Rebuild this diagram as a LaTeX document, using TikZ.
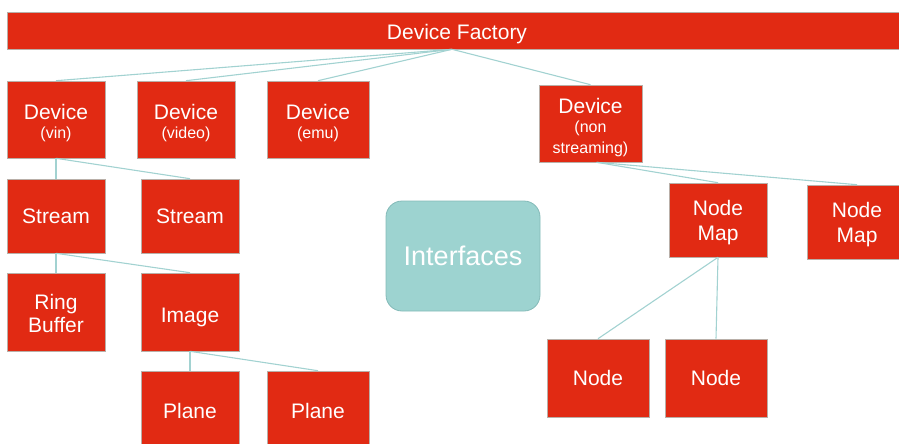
\documentclass[tikz,border=0pt]{standalone}
\usepackage{fontspec}
\setmainfont{Liberation Sans}
\usetikzlibrary{positioning}

\definecolor{boxred}{HTML}{E12A13}
\definecolor{boxedge}{HTML}{B9AFA8}
\definecolor{ifacefill}{HTML}{9DD3D0}
\definecolor{ifaceedge}{HTML}{84BAB8}
\definecolor{linkteal}{HTML}{A2D2D1}

\newcommand{\smalltxt}{\fontsize{16}{19}\selectfont}
\newcommand{\topstrut}[1]{\rule{0pt}{#1}}
\newcommand{\devlabel}[1]{\topstrut{22pt}Device\\[-4pt]\smalltxt #1}

\begin{document}
\begin{tikzpicture}[x=1pt,y=-1pt,
  box/.style={fill=boxred,draw=boxedge,line width=0.6pt,text=white,
    align=center,inner sep=0pt,minimum width=98pt,minimum height=77pt,
    font=\fontsize{21}{23}\selectfont},
  iface/.style={fill=ifacefill,draw=ifaceedge,line width=0.8pt,text=white,
    rounded corners=16pt,minimum width=154pt,minimum height=110pt,
    font=\fontsize{27}{30}\selectfont},
  link/.style={draw=linkteal,line width=1.1pt}]
\useasboundingbox (0,0) rectangle (899,444);

% factory bar
\node[box,minimum width=900pt,minimum height=37pt] (factory) at (457,30.5) {\topstrut{23pt}Device Factory};

% devices
\node[box] (vin) at (56,119.5) {\devlabel{(vin)}};
\node[box] (video) at (186,119.5) {\devlabel{(video)}};
\node[box,minimum width=102pt] (emu) at (318,119.5) {\devlabel{(emu)}};
\node[box,minimum width=103pt] (nonstr) at (590.5,123.5) {\topstrut{24pt}Device\\[-4pt]\smalltxt (non\\[-2pt]\smalltxt streaming)};

% streams
\node[box,minimum height=74pt] (streamA) at (56,216) {Stream};
\node[box,minimum height=74pt] (streamB) at (190,216) {Stream};
\node[box,minimum height=78pt] (ring) at (56,312) {\topstrut{19pt}Ring\\Buffer};
\node[box,minimum height=78pt] (image) at (190,312) {\topstrut{25pt}Image};
\node[box,minimum height=78pt] (planeA) at (190,410) {\topstrut{18pt}Plane};
\node[box,minimum width=102pt,minimum height=78pt] (planeB) at (318,410) {\topstrut{18pt}Plane};

% interfaces
\node[iface] (interfaces) at (463,256) {Interfaces};

% node maps
\node[box,minimum height=74pt] (mapA) at (718,220) {\topstrut{20pt}Node\\[2pt]Map};
\node[box,minimum width=100pt,minimum height=74pt] (mapB) at (857,222) {\topstrut{20pt}Node\\[2pt]Map};
\node[box,minimum width=102pt,minimum height=78pt] (nodeA) at (598,378) {Node};
\node[box,minimum width=102pt,minimum height=78pt] (nodeB) at (716,378) {Node};

% links
\foreach \c in {vin,video,emu,nonstr}
  \draw[link] ([xshift=-5pt]factory.south) -- (\c.north);
\draw[link] (vin.south) -- (streamA.north);
\draw[link] (vin.south) -- (streamB.north);
\draw[link] (streamA.south) -- (ring.north);
\draw[link] (streamA.south) -- (image.north);
\draw[link] (image.south) -- (planeA.north);
\draw[link] (image.south) -- (planeB.north);
\draw[link] ([xshift=6pt]nonstr.south) -- (mapA.north);
\draw[link] ([xshift=6pt]nonstr.south) -- (mapB.north);
\draw[link] (mapA.south) -- (nodeA.north);
\draw[link] (mapA.south) -- (nodeB.north);

\end{tikzpicture}
\end{document}
